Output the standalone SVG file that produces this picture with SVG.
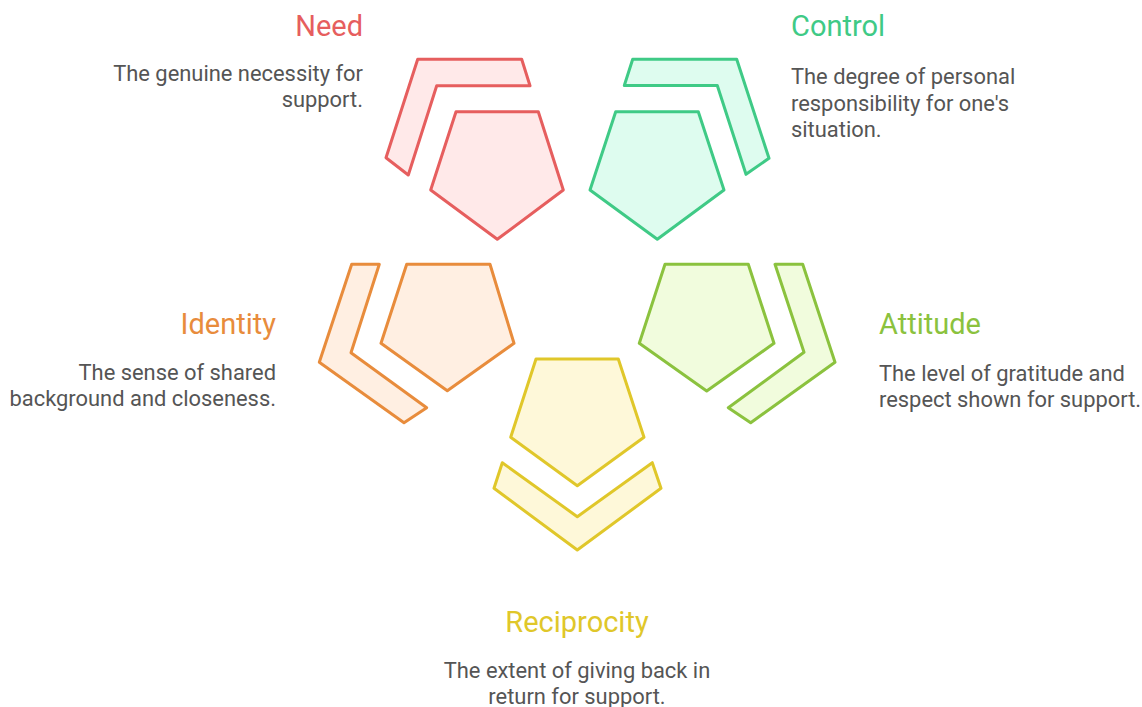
<svg xmlns="http://www.w3.org/2000/svg" width="1142" height="707" viewBox="0 0 1142 707">
<style>
.s{stroke-width:3;stroke-linejoin:round}
.t{font-family:Roboto,"Liberation Sans",sans-serif;font-size:29px}
.d{font-family:Roboto,"Liberation Sans",sans-serif;font-size:21.9px;fill:#555555}
.need{fill:#ffe9e9;stroke:#e65e5e}
.ctrl{fill:#defcef;stroke:#3fca86}
.iden{fill:#ffefe2;stroke:#e88c3c}
.atti{fill:#f1fcdd;stroke:#8bc23e}
.reci{fill:#fef8d9;stroke:#e0c72a}
</style>
<rect width="1142" height="707" fill="#ffffff"/>
<g id="need">
<polygon class="s need" points="417.7,59.3 521.7,59.3 530,85.7 436.7,85.7 408.3,175 386,157.7"/>
<polygon class="s need" points="456,111.7 538.3,111.7 563.3,190 497.3,239.3 430.7,190"/>
<text class="t" x="363" y="36" text-anchor="end" fill="#e65e5e">Need</text>
<text class="d" x="363" y="81" text-anchor="end">The genuine necessity for</text>
<text class="d" x="363" y="107" text-anchor="end">support.</text>
</g>
<g id="control">
<polygon class="s ctrl" points="632.7,59.3 736.7,59.3 769,158.3 746,174.3 717.3,85.5 624.3,85.5"/>
<polygon class="s ctrl" points="615.7,111.7 698.3,111.7 724,190 657.3,239.3 590,190"/>
<text class="t" x="791" y="36" fill="#3fca86">Control</text>
<text class="d" x="791" y="84">The degree of personal</text>
<text class="d" x="791" y="111">responsibility for one's</text>
<text class="d" x="791" y="137">situation.</text>
</g>
<g id="identity">
<polygon class="s iden" points="351.7,264.3 379.3,264.3 351,352.7 426.7,407.7 404,422.7 319.3,362.3"/>
<polygon class="s iden" points="406.7,264.3 490,264.3 514,343.3 447.3,390.7 381,343.3"/>
<text class="t" x="276" y="334" text-anchor="end" fill="#e88c3c">Identity</text>
<text class="d" x="276" y="380" text-anchor="end">The sense of shared</text>
<text class="d" x="276" y="406" text-anchor="end">background and closeness.</text>
</g>
<g id="attitude">
<polygon class="s atti" points="775,264.3 802.7,264.3 835,362.3 750.7,422.7 728.3,407.7 804,352.3"/>
<polygon class="s atti" points="665,264.3 748.3,264.3 774,343.3 706.7,391 639.3,343.3"/>
<text class="t" x="879" y="334" fill="#8bc23e">Attitude</text>
<text class="d" x="879" y="381">The level of gratitude and</text>
<text class="d" x="879" y="407">respect shown for support.</text>
</g>
<g id="reciprocity">
<polygon class="s reci" points="502.3,462.7 577.3,516.7 652.3,462.7 661,488.3 577.3,550 494,488.3"/>
<polygon class="s reci" points="536,359 618.3,359 644,437.3 577.3,485.7 510.7,437.3"/>
<text class="t" x="577" y="632" text-anchor="middle" fill="#e0c72a">Reciprocity</text>
<text class="d" x="577" y="678" text-anchor="middle">The extent of giving back in</text>
<text class="d" x="577" y="704" text-anchor="middle">return for support.</text>
</g>
<g id="connectors"></g>
</svg>
